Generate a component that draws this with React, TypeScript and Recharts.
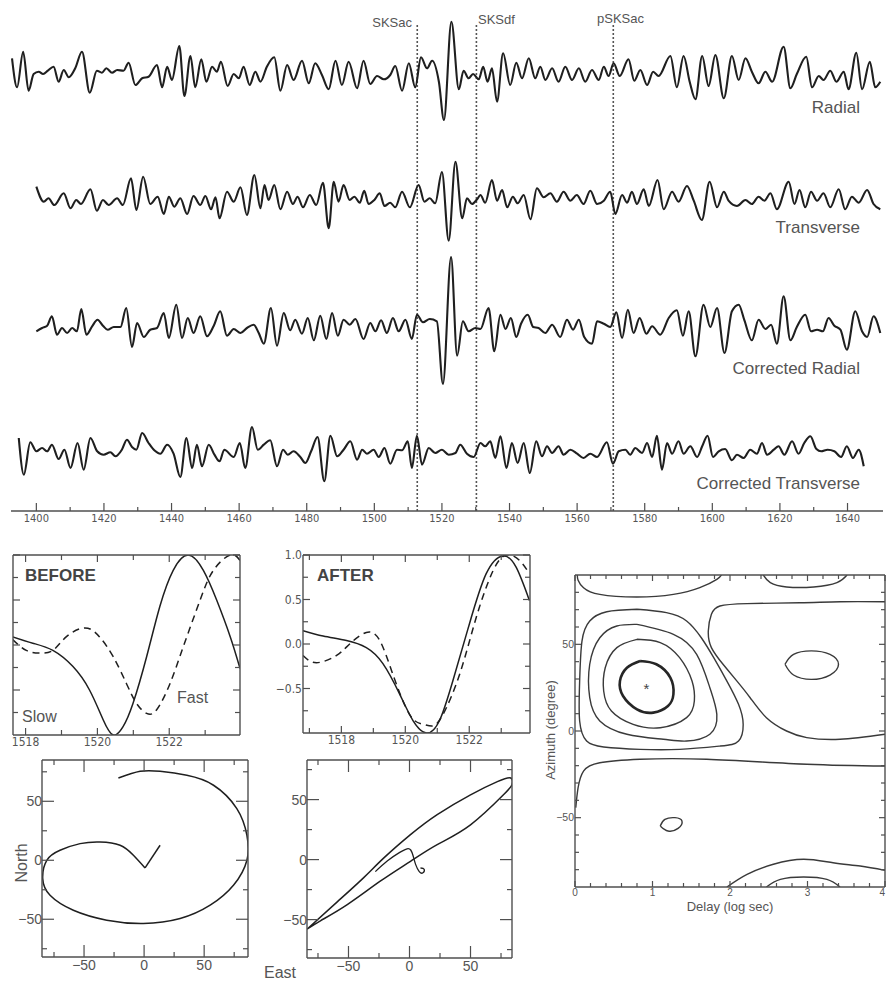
import React from 'react';
import { ComposedChart, Line, XAxis, YAxis, Scatter, ReferenceLine } from 'recharts';

const SANS = "'Liberation Sans', Arial, Helvetica, sans-serif";
const NARROW = "'Liberation Sans Narrow', 'DejaVu Sans Condensed', 'Liberation Sans', sans-serif";
const INK = '#1f1f1f';
const FRAME = '#4f4f4f';
const GREY = '#555555';

// ---- seismograms: [time (s), amplitude] ----
const radial: [number, number][] = [
  [1392.8, 13.7], [1394.3, -15.3], [1396.1, 20.3], [1397.7, -18.7], [1399.2, -2], [1400.7, 0.3], [1402.0, -2], [1403.4, 1.3],
  [1405.1, 5.3], [1406.6, -9.7], [1408.1, 2], [1409.6, -5.3], [1411.5, 3.7], [1413.5, 20.3], [1415.8, -20.7], [1417.9, 1.3],
  [1419.4, -0.7], [1420.7, 3.7], [1422.4, -0.7], [1423.9, 2], [1425.8, 1.3], [1427.3, 9.3], [1429.3, -13], [1431.3, -6.3],
  [1433.2, -4.7], [1435.7, 7], [1437.2, -15.3], [1438.7, 5.3], [1440.1, -8], [1442.3, 26], [1443.8, -24], [1445.6, 16],
  [1447.0, -15.3], [1448.8, 12.7], [1450.3, -9.7], [1452.0, 5.3], [1453.4, 0.3], [1454.6, 10.3], [1456.6, -14], [1458.4, -2],
  [1459.9, -6.3], [1461.3, 5.3], [1463.1, -13], [1464.8, 0.3], [1466.3, -9.7], [1468.2, 5.3], [1470.4, 14.7], [1472.2, -18.7],
  [1474.2, 7], [1476.1, -8], [1478.6, 11.3], [1480.6, -11.3], [1482.5, 8.7], [1484.5, -3], [1486.5, -17.3], [1488.5, 11.3],
  [1490.4, -13], [1492.4, 10.3], [1494.9, -16.3], [1496.8, 11.3], [1498.8, -12], [1500.8, -4], [1502.8, -7.3], [1504.7, -3],
  [1506.2, 6], [1508.2, -18.7], [1510.2, 8.7], [1512.1, -15.3], [1513.8, 14.7], [1515.6, 3.7], [1517.1, 11.3], [1519.1, -9.7],
  [1520.6, -48], [1522.8, 50.3], [1525.0, -17.3], [1526.4, 1.3], [1527.9, -6.3], [1529.2, -2], [1530.9, -7.3], [1532.2, 5.3],
  [1533.5, -9.7], [1534.8, 3.7], [1536.3, -29.7], [1538.1, 18.7], [1540.2, -13], [1542.0, 9.3], [1543.7, -6.3], [1545.7, 13.7],
  [1547.6, -6.3], [1549.1, 5.3], [1550.6, -8], [1552.6, 3.7], [1554.5, -9.7], [1556.5, 5.3], [1558.5, -8], [1560.5, 3.7],
  [1562.4, -9.7], [1564.4, 2], [1566.4, -8], [1567.9, 5.3], [1569.3, -4], [1570.8, 8.7], [1572.6, -4], [1575.2, 12.7],
  [1576.9, -8.7], [1578.7, 2], [1580.7, -13], [1582.5, 0.3], [1584.1, -4], [1587.6, 16], [1589.5, -15.3], [1591.5, 16],
  [1593.3, -9.7], [1595.0, -27.3], [1597.0, 16], [1598.9, -14], [1600.9, 17], [1603.4, -26.3], [1605.8, 16], [1607.8, -8],
  [1609.8, 13.7], [1611.7, 0.3], [1613.7, -11.3], [1615.7, 0.3], [1617.7, -9.7], [1621.1, 25.3], [1623.1, -16.3], [1625.0, -2],
  [1627.8, 15.3], [1629.5, -15.3], [1631.5, -4], [1632.9, -8], [1634.9, 1.3], [1636.7, -9.7], [1638.9, 0.3], [1640.3, -17.3],
  [1642.6, 19.3], [1644.3, -17.3], [1646.6, 10.3], [1648.2, -15.3], [1649.7, -9.7],
];

const transverse: [number, number][] = [
  [1400.0, 13.3], [1402.2, -1.7], [1403.6, 1.7], [1405.3, -5], [1408.1, 6.7], [1410.1, -8.3], [1411.8, 0], [1413.2, -4],
  [1416.0, 10.7], [1417.9, -10.7], [1419.7, 0], [1421.4, -5], [1423.9, 1.7], [1425.6, -5], [1428.0, 21.7], [1429.6, -10],
  [1431.6, 23.3], [1433.7, -4], [1435.9, 3.3], [1437.7, -14], [1439.2, 3.3], [1440.8, -6.7], [1442.6, 1.7], [1444.6, -14],
  [1446.5, 4], [1448.5, -5], [1450.0, 4], [1451.7, -9.3], [1453.0, 2.7], [1454.2, -18.3], [1456.4, 8.3], [1458.4, -1.7],
  [1460.4, 12.7], [1462.3, -15], [1464.5, 25], [1466.3, -8.3], [1467.5, 15], [1468.7, 0], [1470.4, 15], [1472.2, -9.3],
  [1474.2, 8.3], [1475.9, -4], [1477.3, 3.3], [1478.9, -7.3], [1480.9, 5], [1482.8, -5], [1484.8, 17.3], [1486.5, -28.3],
  [1488.0, 18.3], [1489.4, -1.7], [1490.9, 15], [1492.7, 0], [1494.1, 3.3], [1495.7, -2.7], [1497.0, 9.3], [1498.3, -4],
  [1500.0, 0], [1501.6, 6.7], [1503.0, -6], [1504.7, -2.7], [1506.2, -7.3], [1508.2, 8.3], [1510.5, -7.3], [1513.1, 15],
  [1514.8, -1.7], [1516.4, 1.7], [1518.0, -3.3], [1520.0, 28], [1522.0, -40.7], [1524.0, 38.3], [1526.0, -18.3], [1527.4, 1.7],
  [1528.9, -4], [1530.4, 0.7], [1531.4, 5], [1532.8, -2.7], [1534.8, 20], [1536.3, -0.7], [1537.8, 10], [1539.3, -7.3],
  [1541.0, 3.3], [1542.4, -3.3], [1544.2, 5], [1546.2, -19.3], [1548.1, 11.7], [1550.1, 2.7], [1552.1, 6.7], [1554.0, -1.7],
  [1556.0, 8.3], [1558.0, -0.7], [1559.9, 5], [1561.9, -4], [1563.9, 9.3], [1565.9, -4], [1567.9, -0.7], [1569.8, 8.3],
  [1571.3, -14], [1573.3, 5], [1574.8, -2.7], [1576.2, 8.3], [1577.7, -4], [1579.7, 10.7], [1581.2, -6], [1583.8, 20],
  [1585.6, -9.3], [1588.1, 8.3], [1590.0, -1.7], [1592.5, 14], [1594.5, -0.7], [1596.9, -20], [1599.2, 18.3], [1601.4, -7.3],
  [1603.4, 8.3], [1604.8, -0.7], [1607.3, -6], [1609.8, 0], [1611.7, -4], [1613.7, 3.3], [1615.4, -0.7], [1617.2, 6.7],
  [1619.1, -9.3], [1622.6, 18.3], [1624.3, -4], [1625.8, 10], [1627.5, -7.3], [1629.2, 8.3], [1631.0, -0.7], [1632.9, 6.7],
  [1634.9, -7.3], [1637.4, 10.7], [1639.3, -9.3], [1641.3, 3.3], [1643.3, -2.7], [1645.8, 10], [1647.7, -4], [1649.7, -9.3],
];

const correctedRadial: [number, number][] = [
  [1400.0, -3.3], [1401.7, 0], [1403.2, 2.3], [1404.6, 11.7], [1406.1, -6.7], [1407.6, 0], [1409.1, -5], [1410.6, 0],
  [1412.0, -3.3], [1413.3, 19], [1414.8, -6.7], [1416.5, 1.7], [1418.1, 8.3], [1419.7, 2.3], [1421.1, -1.7], [1422.9, 1],
  [1424.9, 1], [1426.6, 20], [1428.3, -19], [1429.8, 5], [1431.8, -9], [1433.7, -1.7], [1435.7, 0], [1437.7, 15],
  [1439.2, -10], [1441.4, 23.3], [1443.1, -10], [1444.8, 10], [1446.5, -5], [1448.5, 11.7], [1450.5, -8.3], [1452.5, 2.3],
  [1454.4, 16.7], [1456.4, -7.7], [1458.4, -1], [1460.4, -5], [1462.3, 0], [1464.3, 3.3], [1465.8, -5], [1467.3, -15.7],
  [1469.4, 20], [1471.2, -17.7], [1473.2, 15], [1475.1, -2.3], [1476.6, 8.3], [1478.6, -5.7], [1480.3, 10], [1482.1, -12.3],
  [1484.0, 12.3], [1485.8, -11], [1487.5, 15], [1489.2, -7.7], [1490.9, 8.3], [1492.7, 3.3], [1494.4, 9], [1496.8, -11],
  [1498.8, 5], [1500.3, -3.3], [1502.0, 7.7], [1503.7, -5], [1505.5, 10], [1507.2, -3.3], [1509.2, 8.3], [1511.1, -11],
  [1512.6, 13.3], [1514.4, 5.7], [1516.4, 9], [1518.5, 6.7], [1520.3, -56], [1522.7, 71], [1524.5, -27.7], [1526.2, 6.7],
  [1527.9, -3.3], [1529.9, 0], [1531.4, -1], [1533.8, 20], [1535.5, -23.3], [1537.3, 13.3], [1538.8, -1], [1540.4, 10],
  [1542.0, -9], [1543.4, 4.3], [1545.4, 13.3], [1547.0, 1], [1548.6, 0], [1550.6, -5], [1552.6, 3.3], [1555.0, -9],
  [1557.0, 8.3], [1558.8, -1.7], [1560.5, 8.3], [1562.1, -9], [1564.4, -15.7], [1565.9, 6.7], [1567.9, 4.3], [1569.8, 1],
  [1571.6, 15.7], [1573.3, -10], [1575.0, 18.3], [1576.7, -5], [1578.5, 10], [1580.5, -5.7], [1582.2, 1.7], [1584.6, -6.7],
  [1587.1, 10], [1589.5, 17.7], [1591.3, -7.7], [1593.0, 16.7], [1595.0, -28.3], [1597.4, 23.3], [1599.4, 1], [1601.4, 20],
  [1603.6, -25], [1605.8, 16.7], [1607.8, 23.3], [1609.5, 7.7], [1611.7, -12.3], [1613.7, 8.3], [1615.7, -1], [1617.4, 3.3],
  [1619.1, -15.7], [1621.1, 31.7], [1623.1, -12.3], [1625.0, 1], [1627.5, 13.3], [1629.2, -3.3], [1631.0, -1.7], [1632.7, -3.3],
  [1634.4, 10], [1636.1, 2.3], [1637.9, -1.7], [1639.8, -21.7], [1642.3, 16.7], [1644.3, -3.3], [1645.8, -9], [1647.7, 11.7],
  [1649.7, -5],
];

const correctedTransverse: [number, number][] = [
  [1394.8, 15], [1396.3, -21.7], [1398.2, 10.7], [1400.0, 1.7], [1401.7, 5], [1403.2, 1.7], [1404.6, 8.3], [1406.6, -6],
  [1408.3, 3.3], [1410.1, -15], [1412.2, 10], [1414.0, -16.7], [1416.0, 15], [1418.0, 1.7], [1419.9, -1.7], [1421.9, 0.7],
  [1423.4, -3.3], [1425.3, 3.3], [1426.8, 13.3], [1428.3, 6], [1429.6, 3.3], [1431.3, 20], [1433.2, 10], [1434.9, 2.7],
  [1436.7, -0.7], [1438.7, 8.3], [1440.6, -0.7], [1442.6, -24], [1444.4, 15], [1446.1, -15], [1447.5, 8.3], [1449.0, -13.3],
  [1451.0, 8.3], [1452.7, -1.7], [1454.2, -8.3], [1455.6, 3.3], [1458.4, -4], [1460.2, 10], [1461.8, -15], [1463.8, 26],
  [1465.5, 3.3], [1467.3, 8.3], [1469.2, 12.7], [1471.2, -13.3], [1473.0, 3.3], [1474.4, -1.7], [1476.1, 1.7], [1478.1, -4],
  [1479.6, -10], [1481.3, 1.7], [1483.2, 16], [1485.2, -28.3], [1487.0, 17.3], [1489.0, -3.3], [1490.9, 3.3], [1492.9, 11.7],
  [1494.9, -6.7], [1496.4, 3.3], [1497.8, -0.7], [1499.8, 3.3], [1501.3, -4], [1503.0, 5], [1504.7, -10.7], [1506.7, 3.3],
  [1508.2, 2.7], [1509.9, 11.7], [1511.1, -15], [1512.6, 17.3], [1514.1, -11.7], [1516.1, 5], [1518.0, 0], [1520.0, 3.3],
  [1522.0, -1.7], [1524.0, 0], [1525.4, 8.3], [1527.4, -0.7], [1529.4, -4], [1531.4, 10], [1532.8, 6.7], [1534.3, 11.7],
  [1535.8, -5], [1537.3, 16.7], [1539.1, -15], [1540.7, 10], [1542.4, -10], [1544.2, 10], [1546.0, -20], [1547.9, 11.7],
  [1549.6, -3.3], [1551.1, 6.7], [1552.6, 0], [1554.5, 6.7], [1556.0, -1.7], [1558.0, 3.3], [1560.0, -0.7], [1561.9, -5],
  [1563.9, -0.7], [1565.9, -4], [1568.8, 10.7], [1570.6, -10.7], [1572.3, 1.7], [1574.3, 3.3], [1575.7, -1.7], [1577.2, 5],
  [1579.2, 0], [1580.7, 10], [1582.2, -4], [1583.6, 17.3], [1585.1, -16.7], [1586.6, 10], [1588.1, -0.7], [1590.0, 11.7],
  [1591.5, -0.7], [1593.5, 6.7], [1595.5, -4], [1597.0, 6.7], [1598.6, 17.3], [1600.2, -4], [1601.9, 1.7], [1603.8, 4],
  [1605.8, -7.3], [1607.3, -1.7], [1609.3, -5], [1611.2, 3.3], [1613.2, -0.7], [1614.7, 10], [1616.2, -1.7], [1618.2, 3.3],
  [1619.6, 6.7], [1621.3, -1.7], [1623.6, 11.7], [1625.5, -0.7], [1627.2, 10], [1629.0, 16.7], [1630.8, 4], [1632.2, 1.7],
  [1634.1, 3.3], [1636.1, 1.7], [1638.1, -4], [1639.8, 6.7], [1641.6, -5], [1643.3, 3.3], [1644.8, -13.3],
];

const traceNames = ['Radial', 'Transverse', 'Corrected Radial', 'Corrected Transverse'];
const phaseNames = ['SKSac', 'SKSdf', 'pSKSac'];
const phaseTimes = [1512.7, 1530.2, 1570.7];
const timeTicks = [1400, 1410, 1420, 1430, 1440, 1450, 1460, 1470, 1480, 1490, 1500, 1510, 1520, 1530, 1540, 1550, 1560, 1570, 1580, 1590, 1600, 1610, 1620, 1630, 1640];
const timeLabels = [1400, 1420, 1440, 1460, 1480, 1500, 1520, 1540, 1560, 1580, 1600, 1620, 1640];

// ---- split-window waveforms, normalised amplitude ----
const slowBefore: [number, number][] = [
  [1517.64, 0.09], [1518.2, 0.02], [1518.76, -0.06], [1519.32, -0.24], [1519.78, -0.5], [1520.16, -0.83], [1520.44, -1.0],
  [1520.71, -0.91], [1520.99, -0.65], [1521.37, -0.13], [1521.74, 0.43], [1522.11, 0.83], [1522.53, 1.0], [1522.95, 0.83],
  [1523.32, 0.5], [1523.7, 0.09], [1523.97, -0.26],
];
const fastBefore: [number, number][] = [
  [1517.64, 0.06], [1518.02, -0.06], [1518.39, -0.09], [1518.76, -0.06], [1519.13, 0.09], [1519.65, 0.19], [1520.06, 0.09],
  [1520.44, -0.13], [1520.81, -0.43], [1521.09, -0.65], [1521.37, -0.76], [1521.65, -0.72], [1522.02, -0.43], [1522.39, -0.02],
  [1522.86, 0.5], [1523.23, 0.83], [1523.7, 1.0], [1523.97, 0.94],
];
const slowAfter: [number, number][] = [
  [1516.8, 0.15], [1517.43, 0.09], [1518.16, 0.04], [1518.78, -0.04], [1519.3, -0.22], [1519.82, -0.56], [1520.24, -0.86],
  [1520.66, -1.0], [1521.07, -0.86], [1521.49, -0.41], [1522.0, 0.22], [1522.53, 0.79], [1523.05, 0.99], [1523.47, 0.86],
  [1523.88, 0.49],
];
const fastAfter: [number, number][] = [
  [1516.8, -0.13], [1517.22, -0.21], [1517.84, -0.13], [1518.26, 0], [1518.78, 0.13], [1519.2, 0.04], [1519.61, -0.34],
  [1520.13, -0.79], [1520.55, -0.9], [1520.86, -0.92], [1521.18, -0.79], [1521.7, -0.34], [1522.22, 0.3], [1522.74, 0.82],
  [1523.16, 1.0], [1523.57, 0.94], [1523.88, 0.79],
];
const waveTicksBefore = [1518, 1519, 1520, 1521, 1522, 1523];
const waveTicksAfter = [1517, 1518, 1519, 1520, 1521, 1522, 1523];
const waveLabels = [1518, 1520, 1522];
const ampTicks = [-0.75, -0.5, -0.25, 0, 0.25, 0.5, 0.75, 1];
const ampLabels = [-0.5, 0, 0.5, 1];

// ---- particle motion: [East, North] ----
const pmBeforeLoop: [number, number][] = [
  [0.8, -6.5], [-8.9, 4.2], [-20, 12.7], [-36.7, 15.5], [-53.3, 14.1], [-70, 8.5], [-81, 0], [-84.4, -15.5], [-78.3, -29.7],
  [-58.9, -42.4], [-31.1, -50.8], [-0.6, -53.6], [30, -49.4], [55, -38.1], [74.4, -21.2], [85.6, 0], [85.6, 21.2],
  [77.2, 43.8], [57.8, 63.6], [35.6, 72], [13.3, 75.4], [-3.3, 75.4], [-21.4, 69.7],
];
const pmBeforeHook: [number, number][] = [[0.8, -6.5], [13.3, 12.7]];
const pmAfterLoop: [number, number][] = [
  [-84, -58], [-59, -35], [-37.5, -15], [-21, 1.4], [0.8, 20.8], [22.7, 37.5], [50, 54], [72, 65], [83, 68], [84, 62.5],
  [77, 54], [50, 29], [22.7, 12.5], [0.8, -1.4], [-24, -18], [-51, -37.5], [-73, -51], [-84, -58],
];
const pmAfterHook: [number, number][] = [
  [-28, -10], [-18, -1], [-8, 6], [-2, 9], [1, 8], [3, 3], [5, -4], [8, -10], [11, -11], [12, -8], [9, -7],
];
const pmTicks = [-75, -50, -25, 0, 25, 50, 75];
const pmLabels = [-50, 0, 50];

// ---- misfit contours: [delay, azimuth] ----
const cInner: [number, number][] = [
  [0.84, 40.4], [1.05, 38.5], [1.23, 30.8], [1.27, 21.2], [1.2, 14.4], [1.01, 10.6], [0.8, 12.5], [0.62, 20.2], [0.58, 28.8], [0.67, 36.5],
];
const cRing2: [number, number][] = [
  [0.8, 52.9], [1.1, 51.0], [1.35, 42.3], [1.51, 28.8], [1.54, 17.3], [1.44, 7.7], [1.1, 1.9], [0.75, 3.8], [0.47, 11.5],
  [0.37, 23.1], [0.39, 36.5], [0.54, 48.1],
];
const cRing3: [number, number][] = [
  [0.8, 61.5], [1.27, 55.8], [1.57, 44.2], [1.74, 25.0], [1.83, 9.6], [1.74, -1.9], [1.44, -5.8], [1.14, -4.8], [0.67, -1.9],
  [0.32, 5.8], [0.19, 19.2], [0.19, 38.5], [0.32, 53.8], [0.54, 60.6],
];
const cRing4: [number, number][] = [
  [0.8, 70.2], [1.18, 68.3], [1.44, 63.5], [1.63, 53.8], [1.79, 42.3], [1.96, 28.8], [2.11, 15.4], [2.17, 3.8], [2.11, -5.8],
  [1.87, -8.7], [1.35, -10.6], [0.84, -10.6], [0.37, -9.2], [0.15, -5.8], [0.06, 5.8], [0.06, 28.8], [0.09, 51.9],
  [0.19, 63.5], [0.41, 68.8],
];
const cRightOval: [number, number][] = [
  [2.71, 38.5], [2.82, 44.2], [3.05, 46.2], [3.29, 44.2], [3.4, 38.5], [3.29, 32.3], [3.05, 29.8], [2.82, 32.3],
];
const cLowerOval: [number, number][] = [
  [1.1, -54.8], [1.16, -51.0], [1.29, -50.0], [1.38, -51.9], [1.33, -56.2], [1.2, -57.7],
];
const cTopLeft: [number, number][] = [
  [0.03, 90], [0.04, 87], [0.11, 82.7], [0.32, 78.8], [0.8, 77.3], [1.27, 78.8], [1.61, 82.7], [1.83, 87.5], [1.89, 90],
];
const cTopRight: [number, number][] = [
  [2.43, 90], [2.52, 85.6], [2.73, 83.1], [3.08, 83.1], [3.38, 85.6], [3.51, 90],
];
const cRight: [number, number][] = [
  [4.0, 74.6], [3.42, 74.6], [2.9, 74.0], [2.22, 73.5], [1.87, 72.1], [1.76, 67.3], [1.72, 57.7], [1.76, 48.1], [1.91, 38.5],
  [2.09, 28.8], [2.26, 19.2], [2.47, 7.7], [2.73, 0], [2.99, -3.8], [3.42, -4.8], [4.0, -1.9],
];
const cLower: [number, number][] = [
  [4.0, -20.2], [2.99, -19.2], [1.7, -16.3], [0.84, -16.3], [0.32, -18.3], [0.11, -23.1], [0.04, -32.7], [0.01, -44.2],
];
const cBottom: [number, number][] = [
  [1.96, -90], [2.22, -82.7], [2.56, -76.9], [2.95, -74.0], [3.33, -76.0], [3.68, -77.9], [4.0, -80.4],
];
const cBottomInner: [number, number][] = [
  [2.47, -90], [2.65, -85.6], [2.95, -84.2], [3.25, -85.6], [3.42, -90],
];
const bestFit: [number, number][] = [[0.92, 25]];
const delayTicks = [0, 0.2, 0.4, 0.6, 0.8, 1, 1.2, 1.4, 1.6, 1.8, 2, 2.2, 2.4, 2.6, 2.8, 3, 3.2, 3.4, 3.6, 3.8, 4];
const delayLabels = [0, 1, 2, 3, 4];
const azTicks = [-80, -70, -60, -50, -40, -30, -20, -10, 0, 10, 20, 30, 40, 50, 60, 70, 80];
const azLabels = [-50, 0, 50];

// ---------------------------------------------------------------------------

const rows = (pts: [number, number][], base = 0) => pts.map(([x, y]) => ({ x, y: y + base }));
const closed = (pts: [number, number][]) => rows([...pts, pts[0]]);
const minus = (v: number) => (v < 0 ? '\u2212' + Math.abs(v) : String(v));

function InTick(props: any) {
  const { x, y, payload, side, labels = [], fmt, major = 8, minor = 4, size = 11, gap = 2, font = NARROW, endAt } = props;
  const v = payload.value;
  const isMajor = labels.some((l: number) => Math.abs(l - v) < 1e-9);
  const L = isMajor ? major : minor;
  const txt = isMajor && fmt ? fmt(v) : null;
  let seg = [x, y, x, y];
  let label: any = null;
  const tp = { fill: GREY, stroke: 'none', fontSize: size, fontFamily: font };
  if (side === 'bottom') {
    seg = [x, y, x, y - L];
    // the last label sits on the page edge, so it is right-aligned there
    const atEnd = endAt !== undefined && Math.abs(v - endAt) < 1e-9;
    if (txt !== null) label = <text {...tp} x={x} y={y + gap + size * 0.8} textAnchor={atEnd ? 'end' : 'middle'}>{txt}</text>;
  } else if (side === 'top') {
    seg = [x, y, x, y + L];
  } else if (side === 'left') {
    seg = [x, y, x + L, y];
    if (txt !== null) label = <text {...tp} x={x - gap} y={y + size * 0.36} textAnchor="end">{txt}</text>;
  } else {
    seg = [x, y, x - L, y];
  }
  return (
    <g>
      <line x1={seg[0]} y1={seg[1]} x2={seg[2]} y2={seg[3]} stroke={FRAME} strokeWidth={1.2} />
      {label}
    </g>
  );
}

type FrameOpts = {
  xd: [number, number]; yd: [number, number];
  xt: number[]; yt: number[]; xl: number[]; yl: number[];
  xf?: (v: number) => string; yf?: (v: number) => string;
  xh: number; yw: number; maj: number; min: number;
  xs: number; ys: number; xgap: number; ygap: number; xfont: string; yfont: string; endAt?: number;
};

// box frame: four axes with inward ticks, labels bottom/left only.
// an axis of zero size is not drawn by recharts, so the top/right ones get 1px
function frameAxes(f: FrameOpts) {
  const common = {
    type: 'number' as const, allowDataOverflow: true, interval: 0 as const,
    tickSize: 0, tickMargin: 0, tickLine: false, axisLine: { stroke: FRAME, strokeWidth: 1.4 },
  };
  return [
    <XAxis key="xb" xAxisId="b" dataKey="x" domain={f.xd} ticks={f.xt} height={f.xh} {...common}
      tick={(p: any) => <InTick {...p} side="bottom" labels={f.xl} fmt={f.xf} major={f.maj} minor={f.min} size={f.xs} gap={f.xgap} font={f.xfont} endAt={f.endAt} />} />,
    <XAxis key="xt" xAxisId="t" orientation="top" dataKey="x" domain={f.xd} ticks={f.xt} height={1} {...common}
      tick={(p: any) => <InTick {...p} side="top" labels={f.xl} major={f.maj} minor={f.min} />} />,
    <YAxis key="yl" yAxisId="l" dataKey="y" domain={f.yd} ticks={f.yt} width={f.yw} {...common}
      tick={(p: any) => <InTick {...p} side="left" labels={f.yl} fmt={f.yf} major={f.maj} minor={f.min} size={f.ys} gap={f.ygap} font={f.yfont} />} />,
    <YAxis key="yr" yAxisId="r" orientation="right" dataKey="y" domain={f.yd} ticks={f.yt} width={1} {...common}
      tick={(p: any) => <InTick {...p} side="right" labels={f.yl} major={f.maj} minor={f.min} />} />,
  ];
}

function Label({ x, y, children, anchor = 'middle', size = 14, bold = false, rotate = 0, color = GREY }: any) {
  const tx = anchor === 'start' ? '0%' : anchor === 'end' ? '-100%' : '-50%';
  return (
    <div style={{
      position: 'absolute', left: x, top: y, transform: `translate(${tx}, -50%) rotate(${rotate}deg)`,
      fontSize: size, fontWeight: bold ? 700 : 400, fontFamily: SANS, color, lineHeight: 1, whiteSpace: 'nowrap',
    }}>{children}</div>
  );
}

const place = (left: number, top: number): React.CSSProperties => ({ position: 'absolute', left, top });

export default function App() {
  const traces = [radial, transverse, correctedRadial, correctedTransverse];
  const bases = [439, 311, 183, 58];
  const bl = { dot: false, isAnimationActive: false, xAxisId: 'b', yAxisId: 'l', dataKey: 'y' } as const;
  const tr = { dot: false, isAnimationActive: false, xAxisId: 't', yAxisId: 'r', dataKey: 'y' } as const;

  return (
    <div style={{ position: 'absolute', left: 0, top: 0, width: 886, height: 981, background: '#fff', overflow: 'hidden' }}>
      {/* seismograms */}
      <div style={place(0, 0)}>
        <ComposedChart width={886} height={530} margin={{ top: 0, right: 3, left: 11, bottom: 0 }}>
          <XAxis type="number" dataKey="x" domain={[1392.5, 1650.5]} allowDataOverflow ticks={timeTicks} interval={0}
            tickSize={0} tickMargin={0} tickLine={false} height={19} axisLine={{ stroke: FRAME, strokeWidth: 1.6 }}
            tick={(p: any) => <InTick {...p} side="bottom" labels={timeLabels} fmt={String} major={8} minor={4} size={11} gap={2} />} />
          <YAxis hide type="number" domain={[0, 511]} allowDataOverflow />
          {phaseTimes.map((t) => (
            <ReferenceLine key={t} segment={[{ x: t, y: 0 }, { x: t, y: 486 }]} stroke="#555" strokeWidth={1.6} strokeDasharray="2 2" />
          ))}
          {traces.map((trc, i) => (
            <Line key={traceNames[i]} data={rows(trc, bases[i])} dataKey="y" type="monotone" stroke={INK} strokeWidth={2.1}
              dot={false} isAnimationActive={false} />
          ))}
        </ComposedChart>
      </div>
      <Label x={412} y={22} anchor="end" size={13}>{phaseNames[0]}</Label>
      <Label x={478} y={19} anchor="start" size={13}>{phaseNames[1]}</Label>
      <Label x={597} y={18} anchor="start" size={13}>{phaseNames[2]}</Label>
      <Label x={860} y={107} anchor="end" size={17}>{traceNames[0]}</Label>
      <Label x={860} y={227} anchor="end" size={17}>{traceNames[1]}</Label>
      <Label x={860} y={368} anchor="end" size={17}>{traceNames[2]}</Label>
      <Label x={860} y={483} anchor="end" size={17}>{traceNames[3]}</Label>

      {/* BEFORE */}
      <div style={place(3, 545)}>
        <ComposedChart width={247} height={210} margin={{ top: 9, right: 9, left: 9, bottom: 0 }}>
          {frameAxes({ xd: [1517.65, 1523.97], yd: [-1, 1], xt: waveTicksBefore, yt: ampTicks, xl: waveLabels, yl: ampLabels,
            xf: String, xh: 20, yw: 1, maj: 7, min: 5, xs: 12, ys: 12, xgap: 1, ygap: 2, xfont: NARROW, yfont: NARROW })}
          <Line {...bl} data={rows(slowBefore)} type="natural" stroke={INK} strokeWidth={1.5} />
          <Line {...tr} data={rows(fastBefore)} type="natural" stroke={INK} strokeWidth={1.5} strokeDasharray="7 5" />
        </ComposedChart>
      </div>
      <Label x={25} y={575} anchor="start" size={17} bold color="#444">BEFORE</Label>
      <Label x={22} y={717} anchor="start" size={16}>Slow</Label>
      <Label x={177} y={698} anchor="start" size={16}>Fast</Label>

      {/* AFTER */}
      <div style={place(263, 545)}>
        <ComposedChart width={277} height={208} margin={{ top: 9, right: 9, left: 0, bottom: 0 }}>
          {frameAxes({ xd: [1516.8, 1523.9], yd: [-1, 1], xt: waveTicksAfter, yt: ampTicks, xl: waveLabels, yl: ampLabels,
            xf: String, yf: (v) => (v < 0 ? '\u2212' : '') + Math.abs(v).toFixed(1), xh: 20, yw: 40, maj: 7, min: 5,
            xs: 12, ys: 12, xgap: 1, ygap: 1, xfont: NARROW, yfont: NARROW })}
          <Line {...bl} data={rows(slowAfter)} type="natural" stroke={INK} strokeWidth={1.5} />
          <Line {...tr} data={rows(fastAfter)} type="natural" stroke={INK} strokeWidth={1.5} strokeDasharray="7 5" />
        </ComposedChart>
      </div>
      <Label x={317} y={575} anchor="start" size={17} bold color="#444">AFTER</Label>

      {/* particle motion before */}
      <div style={place(0, 750)}>
        <ComposedChart width={258} height={231} margin={{ top: 9, right: 9, left: 0, bottom: 0 }}>
          {frameAxes({ xd: [-85, 86.5], yd: [-82, 85], xt: pmTicks, yt: pmTicks, xl: pmLabels, yl: pmLabels,
            xf: minus, yf: minus, xh: 24, yw: 42, maj: 12, min: 5, xs: 14, ys: 14, xgap: 2, ygap: 0, xfont: SANS, yfont: SANS })}
          <Line {...bl} data={rows(pmBeforeLoop)} type="natural" stroke={INK} strokeWidth={1.5} />
          <Line {...tr} data={rows(pmBeforeHook)} type="linear" stroke={INK} strokeWidth={1.5} />
        </ComposedChart>
      </div>
      <Label x={22} y={863} size={16} rotate={-90}>North</Label>

      {/* particle motion after */}
      <div style={place(265, 750)}>
        <ComposedChart width={257} height={231} margin={{ top: 9, right: 9, left: 0, bottom: 0 }}>
          {frameAxes({ xd: [-84, 84], yd: [-82, 83], xt: pmTicks, yt: pmTicks, xl: pmLabels, yl: pmLabels,
            xf: minus, yf: minus, xh: 23, yw: 42, maj: 12, min: 5, xs: 14, ys: 14, xgap: 2, ygap: 0, xfont: SANS, yfont: SANS })}
          <Line {...bl} data={rows(pmAfterLoop)} type="natural" stroke={INK} strokeWidth={1.5} />
          <Line {...tr} data={rows(pmAfterHook)} type="natural" stroke={INK} strokeWidth={1.3} />
        </ComposedChart>
      </div>
      <Label x={280} y={973} size={16}>East</Label>

      {/* misfit contours */}
      <div style={place(535, 565)}>
        <ComposedChart width={351} height={350} margin={{ top: 9, right: 0, left: 0, bottom: 0 }}>
          {frameAxes({ xd: [0, 4], yd: [-90, 90], xt: delayTicks, yt: azTicks, xl: delayLabels, yl: azLabels,
            xf: String, yf: minus, xh: 28, yw: 40, maj: 6, min: 4, xs: 10, ys: 10.5, xgap: 1, ygap: 1, xfont: SANS, yfont: SANS, endAt: 4 })}
          {[cRing2, cRing3, cRing4, cRightOval, cLowerOval].map((c, i) => (
            <Line key={'r' + i} {...bl} data={closed(c)} type="natural" stroke="#3a3a3a" strokeWidth={1.4} />
          ))}
          <Line {...bl} data={closed(cInner)} type="natural" stroke="#262626" strokeWidth={2.6} />
          {[cTopLeft, cTopRight, cRight, cLower, cBottom, cBottomInner].map((c, i) => (
            <Line key={'o' + i} {...tr} data={rows(c)} type="natural" stroke="#3a3a3a" strokeWidth={1.4} />
          ))}
          <Scatter xAxisId="b" yAxisId="l" data={rows(bestFit)} isAnimationActive={false}
            shape={(p: any) => <text x={p.cx} y={p.cy + 6} textAnchor="middle" fontSize={15} fill="#444" fontFamily={SANS}>*</text>} />
        </ComposedChart>
      </div>
      <Label x={550} y={730} size={13} rotate={-90}>Azimuth (degree)</Label>
      <Label x={730} y={906} size={13}>Delay (log sec)</Label>
    </div>
  );
}
